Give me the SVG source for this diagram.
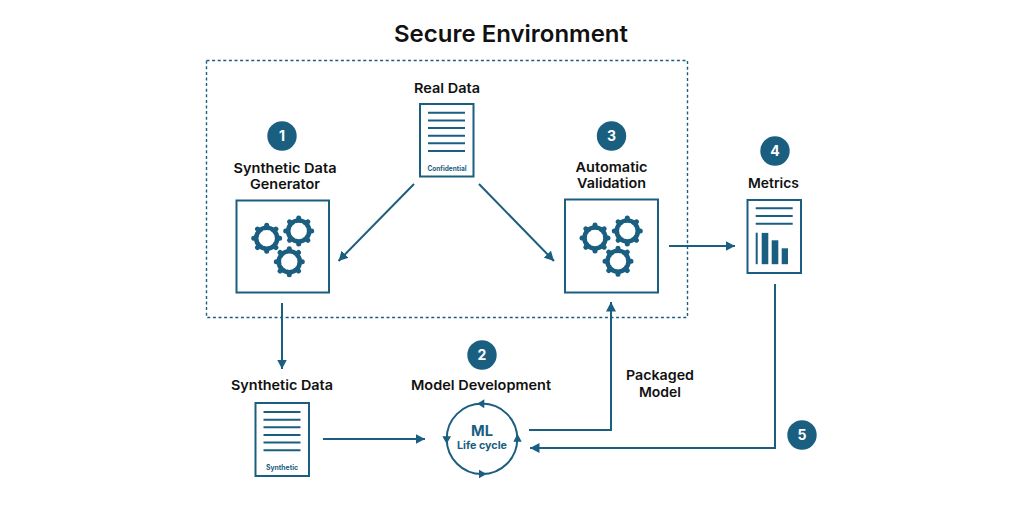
<svg xmlns="http://www.w3.org/2000/svg" width="1024" height="507" viewBox="0 0 1024 507">
<style>
text{font-family:"Inter","Open Sans","Liberation Sans",sans-serif;font-weight:600;fill:#111;text-anchor:middle}
.lab{font-size:13.5px}
.title{font-size:23.5px}
.num{fill:#fff;font-size:14px;font-weight:700}
.teal{fill:#1a5e80;font-weight:700}
.badge{fill:#1a5e80}
.box{fill:#fff;stroke:#1a5e80;stroke-width:2}
.ln{fill:none;stroke:#1a5e80;stroke-width:2}
.tl{stroke:#1a5e80;stroke-width:2;fill:none}
.bar{fill:#1a5e80}
</style>
<defs>
<marker id="ah" markerUnits="userSpaceOnUse" markerWidth="11" markerHeight="11" refX="9.500" refY="5.500" orient="auto"><path d="M0 0.500L9.500 5.500L0 10.500Z" fill="#1a5e80"/></marker>
<g id="gear">
<circle r="10.500" fill="none" stroke="#1a5e80" stroke-width="4.600"/>
<path d="M0-13V13M-13 0H13M-9.200-9.200L9.200 9.200M-9.200 9.200L9.200-9.200" stroke="#1a5e80" stroke-width="5" stroke-linecap="round" fill="none"/>
<circle r="8.200" fill="#fff"/>
</g>
<g id="doclines" class="tl">
<path d="M0 0H37M0 7.700H37M0 15.300H37M0 23H37M0 30.600H37M0 38.300H37"/>
</g>
</defs>
<rect width="1024" height="507" fill="#fff"/>
<text class="title" x="511" y="42" textLength="234" lengthAdjust="spacingAndGlyphs">Secure Environment</text>
<rect id="secure-environment" x="206.500" y="60.500" width="481" height="257" fill="none" stroke="#1a5e80" stroke-width="1.400" stroke-dasharray="3 2.600"/>
<g id="connectors" class="ln">
<path d="M414 184L338.500 261" marker-end="url(#ah)"/>
<path d="M479 184L554 261" marker-end="url(#ah)"/>
<path d="M669 246H735" marker-end="url(#ah)"/>
<path d="M282 303V369" marker-end="url(#ah)"/>
<path d="M323 439H425" marker-end="url(#ah)"/>
<path d="M529 430H611V302" marker-end="url(#ah)"/>
<path d="M775 284V448H530" marker-end="url(#ah)"/>
</g>
<g id="node-generator">
<circle class="badge" cx="282" cy="136" r="14.700"/>
<text class="num" x="282" y="141">1</text>
<text class="lab" x="285" y="173" textLength="103" lengthAdjust="spacingAndGlyphs">Synthetic Data</text>
<text class="lab" x="285" y="189" textLength="70" lengthAdjust="spacingAndGlyphs">Generator</text>
<rect class="box" x="236.500" y="200.500" width="92.500" height="92"/>
<use href="#gear" x="266.700" y="238.300"/>
<use href="#gear" x="298.700" y="231"/>
<use href="#gear" x="289.300" y="261.700"/>
</g>
<g id="node-real-data">
<text class="lab" x="447" y="93" textLength="66" lengthAdjust="spacingAndGlyphs">Real Data</text>
<rect class="box" x="420" y="104" width="53.500" height="72.500"/>
<use href="#doclines" x="428" y="112.700"/>
<text class="teal" x="447" y="170.500" font-size="7" textLength="39" lengthAdjust="spacingAndGlyphs">Confidential</text>
</g>
<g id="node-validation">
<circle class="badge" cx="611.500" cy="136" r="14.700"/>
<text class="num" x="611.500" y="141">3</text>
<text class="lab" x="611.500" y="172" textLength="72" lengthAdjust="spacingAndGlyphs">Automatic</text>
<text class="lab" x="611.500" y="188" textLength="69" lengthAdjust="spacingAndGlyphs">Validation</text>
<rect class="box" x="565" y="199.500" width="93" height="93"/>
<use href="#gear" x="595" y="238"/>
<use href="#gear" x="627.300" y="231"/>
<use href="#gear" x="618" y="261.300"/>
</g>
<g id="node-metrics">
<circle class="badge" cx="775" cy="151" r="14.700"/>
<text class="num" x="775" y="156">4</text>
<text class="lab" x="773.500" y="188" textLength="51" lengthAdjust="spacingAndGlyphs">Metrics</text>
<rect class="box" x="747.500" y="200" width="53.500" height="73"/>
<path class="tl" d="M755.700 208.300H792.700M755.700 216H792.700M755.700 223.700H792.700"/>
<rect class="bar" x="755.700" y="232.700" width="2" height="31.500"/>
<rect class="bar" x="761.700" y="232.900" width="6.600" height="31.300"/>
<rect class="bar" x="771.700" y="240.300" width="6.600" height="23.900"/>
<rect class="bar" x="781.700" y="248.300" width="6.300" height="15.900"/>
</g>
<g id="node-synthetic-data">
<text class="lab" x="282" y="390" textLength="102" lengthAdjust="spacingAndGlyphs">Synthetic Data</text>
<rect class="box" x="255.500" y="403" width="53.500" height="73"/>
<use href="#doclines" x="263.500" y="412"/>
<text class="teal" x="282" y="469.500" font-size="7" textLength="32" lengthAdjust="spacingAndGlyphs">Synthetic</text>
</g>
<g id="node-model-development">
<circle class="badge" cx="482" cy="355" r="14.700"/>
<text class="num" x="482" y="360">2</text>
<text class="lab" x="481" y="390" textLength="140" lengthAdjust="spacingAndGlyphs">Model Development</text>
<circle class="ln" cx="482" cy="438.800" r="35.300"/>
<path class="bar" d="M477.300 403.800L484.300 399.300V408.300ZM442.300 436.200H451L446.700 444ZM513.300 441.700H521.700L517.500 433.800ZM486.700 474L479 469.700V478.300Z"/>
<text class="teal" x="482" y="436" font-size="14.500" textLength="22" lengthAdjust="spacingAndGlyphs">ML</text>
<text class="teal" x="482" y="449" font-size="10.500" textLength="50" lengthAdjust="spacingAndGlyphs">Life cycle</text>
</g>
<g id="label-packaged-model">
<text class="lab" x="660" y="380" textLength="68" lengthAdjust="spacingAndGlyphs">Packaged</text>
<text class="lab" x="660" y="397" textLength="42" lengthAdjust="spacingAndGlyphs">Model</text>
</g>
<g id="node-step-5">
<circle class="badge" cx="802" cy="435" r="14.700"/>
<text class="num" x="802" y="440">5</text>
</g>
</svg>
